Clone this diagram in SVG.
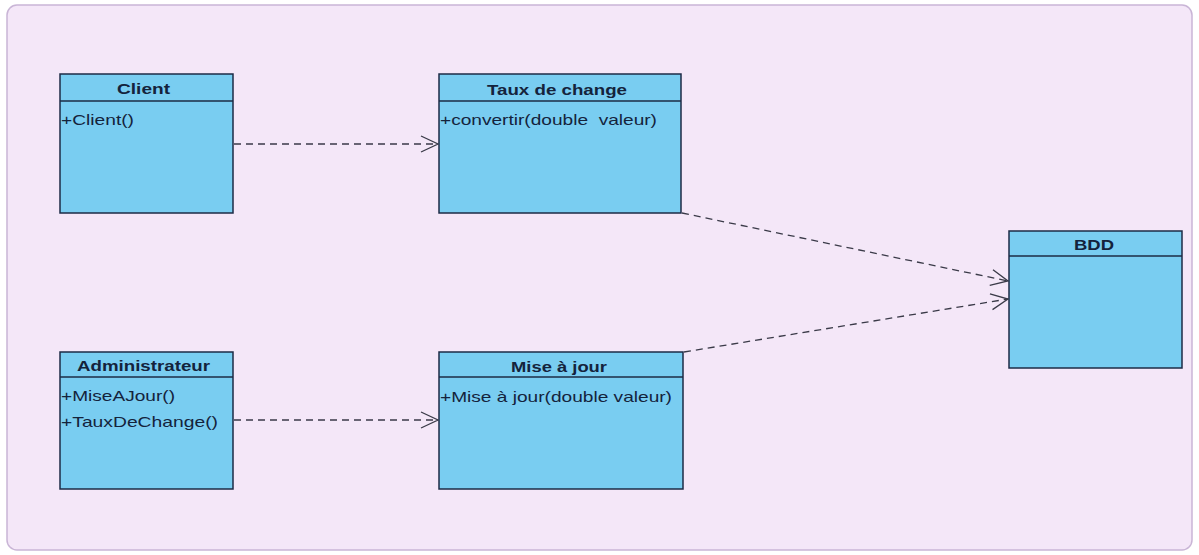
<svg xmlns="http://www.w3.org/2000/svg" width="1199" height="555" viewBox="0 0 1199 555">
  <style>
    .cls { fill: #79cdf1; stroke: #1c2b45; stroke-width: 1.5; }
    .div { stroke: #1c2b45; stroke-width: 1.3; }
    .title { font-family: "Liberation Sans", Arial, sans-serif; font-size: 15px; font-weight: bold; fill: #14233c; }
    .member { font-family: "Liberation Sans", Arial, sans-serif; font-size: 15px; fill: #14233c; }
    .dep { fill: none; stroke: #3a3a48; stroke-width: 1.3; stroke-dasharray: 7 5; }
  </style>
  <defs>
    <marker id="open" markerWidth="20" markerHeight="18" refX="18" refY="9" orient="auto" markerUnits="userSpaceOnUse">
      <path d="M1,1 L18,9 L1,17" fill="none" stroke="#3a3a48" stroke-width="1.3"/>
    </marker>
  </defs>

  <rect x="0" y="0" width="1199" height="555" fill="#ffffff"/>
  <rect x="7" y="5" width="1185" height="545" rx="10" ry="10" fill="#f4e7f8" stroke="#c9b5d6" stroke-width="1.5"/>

  <g id="connectors">
    <line class="dep" x1="234" y1="144" x2="438" y2="144" marker-end="url(#open)"/>
    <line class="dep" x1="234" y1="420" x2="438" y2="420" marker-end="url(#open)"/>
    <line class="dep" x1="682" y1="213" x2="1008" y2="281" marker-end="url(#open)"/>
    <line class="dep" x1="684" y1="352" x2="1008" y2="299" marker-end="url(#open)"/>
  </g>

  <g id="client">
    <rect class="cls" x="60" y="74" width="173" height="139"/>
    <line class="div" x1="60" y1="101" x2="233" y2="101"/>
    <text class="title" x="117" y="94" textLength="53" lengthAdjust="spacingAndGlyphs">Client</text>
    <text class="member" x="61" y="125" textLength="73" lengthAdjust="spacingAndGlyphs">+Client()</text>
  </g>

  <g id="taux-de-change">
    <rect class="cls" x="439" y="74" width="242" height="139"/>
    <line class="div" x1="439" y1="101" x2="681" y2="101"/>
    <text class="title" x="487" y="95" textLength="140" lengthAdjust="spacingAndGlyphs">Taux de change</text>
    <text class="member" x="440" y="125" textLength="217" lengthAdjust="spacingAndGlyphs" xml:space="preserve">+convertir(double  valeur)</text>
  </g>

  <g id="administrateur">
    <rect class="cls" x="60" y="352" width="173" height="137"/>
    <line class="div" x1="60" y1="377" x2="233" y2="377"/>
    <text class="title" x="77" y="371" textLength="133" lengthAdjust="spacingAndGlyphs">Administrateur</text>
    <text class="member" x="61" y="401" textLength="114" lengthAdjust="spacingAndGlyphs">+MiseAJour()</text>
    <text class="member" x="61" y="427" textLength="157" lengthAdjust="spacingAndGlyphs">+TauxDeChange()</text>
  </g>

  <g id="mise-a-jour">
    <rect class="cls" x="439" y="352" width="244" height="137"/>
    <line class="div" x1="439" y1="377" x2="683" y2="377"/>
    <text class="title" x="511" y="372" textLength="96" lengthAdjust="spacingAndGlyphs">Mise à jour</text>
    <text class="member" x="440" y="402" textLength="232" lengthAdjust="spacingAndGlyphs">+Mise à jour(double valeur)</text>
  </g>

  <g id="bdd">
    <rect class="cls" x="1009" y="231" width="173" height="137"/>
    <line class="div" x1="1009" y1="256" x2="1182" y2="256"/>
    <text class="title" x="1074" y="250" textLength="40" lengthAdjust="spacingAndGlyphs">BDD</text>
  </g>
</svg>
